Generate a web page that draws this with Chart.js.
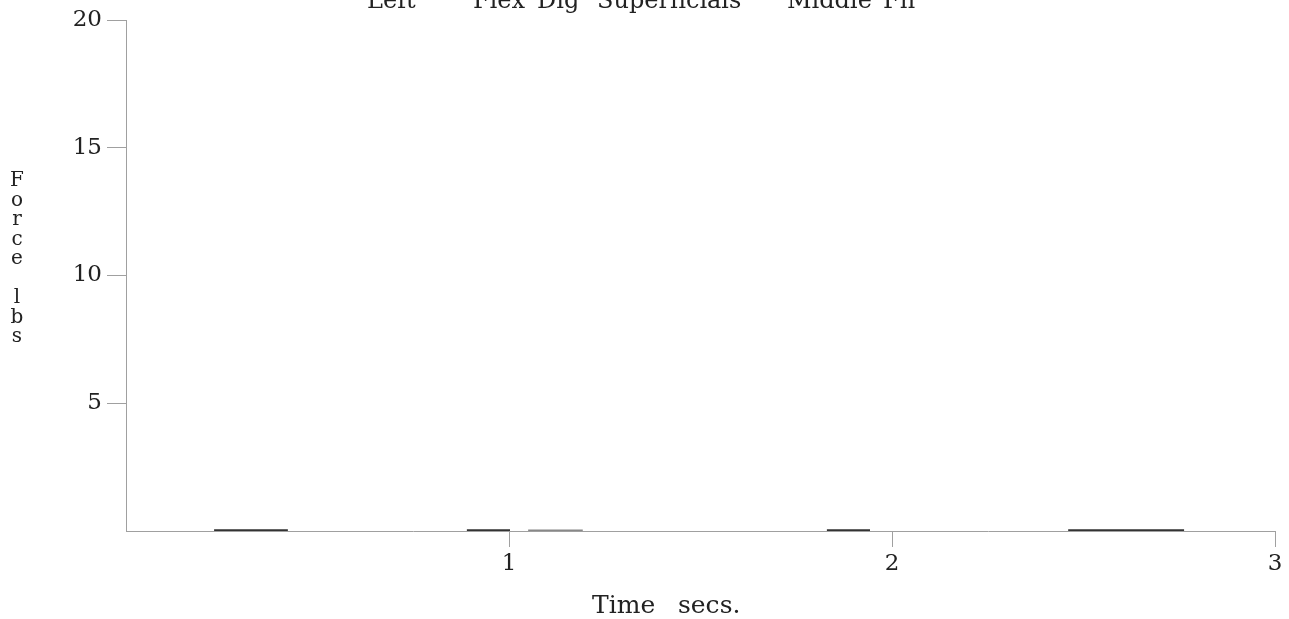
<!DOCTYPE html>
<html>
<head>
<meta charset="utf-8">
<script src="https://cdn.jsdelivr.net/npm/chart.js@4.4.1/dist/chart.umd.min.js"></script>
<style>
  html, body { margin: 0; padding: 0; background: #fff; overflow: hidden; }
  #wrap { position: relative; width: 1289px; height: 619px; overflow: hidden; }
  #chart { position: absolute; left: 0; top: 0; }
  .lbl { position: absolute; font-family: 'DejaVu Serif', 'Liberation Serif', serif; color: #222; white-space: pre; }
  #title { left: 0; top: -12px; font-size: 24px; line-height: 24px; width: 1289px; height: 40px; }
  #title span { position: absolute; top: 0; }
  #xtitle { left: 0; top: 592px; font-size: 25px; line-height: 25px; width: 1289px; height: 30px; }
  #xtitle span { position: absolute; top: 0; }
  #ytitle { left: 8px; top: 170px; font-size: 20px; line-height: 19.5px; text-align: center; width: 18px; }
</style>
</head>
<body>
<div id="wrap">
  <canvas id="chart" width="1289" height="619"></canvas>
  <div class="lbl" id="title"><span style="left:367px">Left</span><span style="left:473px">Flex</span><span style="left:537px">Dig</span><span style="left:597px">Superficials</span><span style="left:787px">Middle</span><span style="left:883px">Fn</span></div>
  <div class="lbl" id="xtitle"><span style="left:592px">Time</span><span style="left:678px">secs.</span></div>
  <div class="lbl" id="ytitle">F<br>o<br>r<br>c<br>e<br>&nbsp;<br>l<br>b<br>s</div>
</div>
<script>
// Force trace (lbs) against time (secs) - stays on the baseline
const timeSecs = [0, 0.23, 0.23, 0.42, 0.42, 0.89, 0.89, 1.0, 1.0, 1.05, 1.05, 1.19, 1.19, 1.83, 1.83, 1.94, 1.94, 2.46, 2.46, 2.76, 2.76, 3.0];
const forceLbs = [0, 0, 0.03, 0.03, 0, 0, 0.03, 0.03, 0, 0, 0.015, 0.015, 0, 0, 0.03, 0.03, 0, 0, 0.03, 0.03, 0, 0];
const xTicks = [1, 2, 3];
const yTicks = [5, 10, 15, 20];

const points = timeSecs.map((t, i) => ({ x: t, y: forceLbs[i] }));
const axisGray = '#a0a0a0';
const tickFont = { family: "'DejaVu Serif', 'Liberation Serif', serif", size: 23 };

new Chart(document.getElementById('chart'), {
    type: 'line',
    data: {
        datasets: [{
            data: points,
            borderWidth: 2,
            pointRadius: 0,
            tension: 0,
            segment: {
                borderColor: (ctx) => {
                    const y = ctx.p0.parsed.y;
                    if (y >= 0.03) return '#333';
                    if (y > 0) return '#888';
                    return 'rgba(0,0,0,0)';
                }
            }
        }]
    },
    options: {
        responsive: false,
        animation: false,
        layout: { padding: { top: 20, right: 14, left: 0, bottom: 0 } },
        plugins: {
            legend: { display: false },
            tooltip: { enabled: false }
        },
        scales: {
            x: {
                type: 'linear',
                min: 0,
                max: 3,
                afterFit: (scale) => { scale.height = 88; },
                afterBuildTicks: (scale) => { scale.ticks = [0].concat(xTicks).map(v => ({ value: v })); },
                ticks: {
                    color: '#222',
                    font: tickFont,
                    padding: 3,
                    maxRotation: 0,
                    callback: (v) => (xTicks.includes(v) ? String(v) : null)
                },
                grid: {
                    drawOnChartArea: false,
                    drawTicks: true,
                    tickLength: 16,
                    color: axisGray,
                    lineWidth: 1
                },
                border: { display: true, color: axisGray, width: 1 }
            },
            y: {
                type: 'linear',
                min: 0,
                max: 20,
                afterFit: (scale) => { scale.width = 126; },
                afterBuildTicks: (scale) => { scale.ticks = [0].concat(yTicks).map(v => ({ value: v })); },
                ticks: {
                    color: '#222',
                    font: tickFont,
                    padding: 5,
                    callback: (v) => (yTicks.includes(v) ? String(v) : null)
                },
                grid: {
                    drawOnChartArea: false,
                    drawTicks: true,
                    tickLength: 19,
                    color: axisGray,
                    lineWidth: 1
                },
                border: { display: true, color: axisGray, width: 1 }
            }
        }
    }
});
</script>
</body>
</html>
